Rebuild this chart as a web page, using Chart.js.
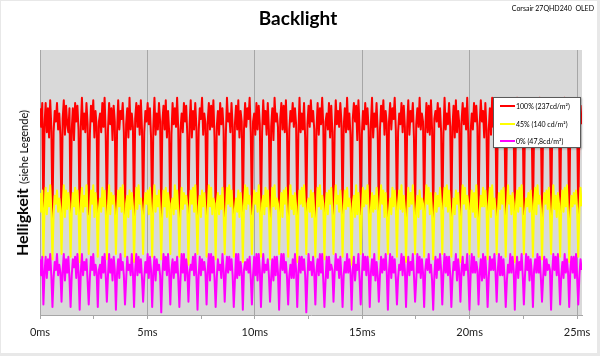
<!DOCTYPE html>
<html><head><meta charset="utf-8">
<script src="https://cdn.jsdelivr.net/npm/chart.js@4.4.1/dist/chart.umd.min.js"></script>
<style>
html,body{margin:0;padding:0;background:#fff;}
#wrap{position:relative;width:600px;height:356px;overflow:hidden;font-family:Lato,"DejaVu Sans",sans-serif;color:#000;}
#c{position:absolute;left:0;top:0;}
#frame{position:absolute;left:0;top:0;width:600px;height:356px;box-sizing:border-box;border:1px solid #e8e8e8;border-right-width:3px;border-bottom-width:3px;pointer-events:none;}
#title{position:absolute;left:298px;top:6px;transform:translateX(-50%);font-size:19px;font-weight:bold;white-space:nowrap;line-height:24px;}
#corner{position:absolute;right:6px;top:3px;font-size:7px;white-space:pre;line-height:10px;}
#ytitle{position:absolute;left:23px;top:183px;transform:translate(-50%,-50%) rotate(-90deg);white-space:nowrap;line-height:18px;}
#ytitle .b{font-weight:bold;font-size:16px;}
#ytitle .s{font-size:11px;}
#legend{position:absolute;left:493px;top:97px;width:88px;height:51px;box-sizing:border-box;border:1px solid #5a5a5a;background:#fff;box-shadow:1px 1px 2px rgba(0,0,0,0.25);}
#legend .row{position:absolute;left:0;height:10px;line-height:10px;font-size:7px;white-space:nowrap;}
#legend .sw{position:absolute;left:6px;top:4px;width:15px;height:2px;}
#legend .tx{position:absolute;left:22px;top:0;}
</style>
</head><body>
<div id="wrap">
<canvas id="c" width="600" height="356"></canvas>
<div id="title">Backlight</div>
<div id="corner">Corsair 27QHD240  OLED</div>
<div id="ytitle"><span class="b">Helligkeit</span> <span class="s">(siehe Legende)</span></div>
<div id="legend"></div>
<div id="frame"></div>
</div>
<script>
// Series names (legend)
const seriesNames = ['100% (237cd/m²)', '45% (140 cd/m²)', '0% (47,8cd/m²)'];
const seriesColors = ['#ff0000', '#ffff00', '#ff00ff'];
// Sample interval of the measurement trace (ms)
const sampleStepMs = 0.05275;
const xTickStepMs = 2.5;
const xLabelStepMs = 5;

// Brightness traces (relative units)
const red = [
78,71,80,
36,72,80,69,78,67,81,71, 37,69,77,73,80,70,76,68, 35,74,81,68,79,72,69,78, 37,70,78,66,80,73,79,70,
36,71,82,70,76,69,80,72, 38,68,79,73,81,67,77,71, 36,73,76,69,80,71,82,68, 37,70,80,72,78,66,79,73,
35,69,81,70,77,74,80,69, 37,72,78,67,82,70,76,71, 36,74,80,71,79,68,81,70, 38,69,77,73,80,72,78,67,
36,71,82,68,76,70,80,73, 37,73,79,70,81,67,77,69, 34,68,80,72,78,71,82,70, 37,70,76,69,80,73,79,68,
36,72,81,67,77,70,80,71, 38,69,78,74,82,68,76,72, 36,73,80,70,79,71,81,67, 37,71,77,68,80,72,78,70,
35,68,82,73,76,69,80,71, 37,72,79,70,81,67,77,73, 36,70,80,71,78,74,82,69, 38,73,76,68,80,70,79,72,
36,69,81,72,77,68,80,70, 37,71,78,66,82,73,76,71, 35,74,80,70,79,69,81,68, 37,70,77,73,80,71,78,72,
36,68,82,69,76,70,80,67, 38,72,79,71,81,73,77,70, 36,70,80,68,78,72,82,71, 37,73,76,70,80,67,79,69,
35,69,81,72,77,71,80,73, 37,71,78,69,82,70,76,68, 36,74,80,73,79,66,81,71, 38,68,77,70,80,72,78,70,
36,72,82,67,76,71,80,69, 37,70,79,73,81,68,77,72, 34,73,80,70,78,74,82,70, 37,69,76,72,80,69,79,71,
36,71,81,68,77,73,80,67, 38,72,78,71,82,70,76,73, 36,70,80,69,79,68,81,70, 37,74,77,73,80,71,78,69,
35,68,82,70,76,72,80,71, 37,71,79,67,81,69,77,72, 36,73,80,72,78,70,82,68, 38,69,76,70,80,73,79,71,
36,72,81,73,77,67,80,70, 37,70,78,68,82,71,76,72, 35,73,80,71,79,70,81,69, 37,68,77,72,80,74,78,70,
36,71,82,69,76,68,80,73, 38,73,79,70,81,72,77,68, 36,70,80,67,78,71,82,72, 37,72,76,73,80,69,79,70,
35,69,81,70,77,72,80,71, 37,74,78,68,82,70,76,69, 36,71,80,72,79,67,81,73,
37,70,79,72
];
const yellow = [
46,39,47,
22,40,48,38,46,41,49,39, 21,38,45,42,47,39,44,40, 23,41,49,37,47,40,46,42, 22,39,46,41,48,38,47,40,
20,42,48,39,45,41,49,38, 23,38,47,42,49,37,46,41, 22,40,44,39,48,41,47,39, 21,41,49,38,46,42,45,40,
23,39,47,41,48,39,49,38, 22,42,45,37,47,40,46,41, 20,38,48,40,49,42,44,39, 23,40,46,42,47,38,48,40,
22,41,49,39,45,41,47,38, 21,39,47,41,48,37,46,42, 23,42,44,38,49,40,47,39, 22,38,48,40,46,42,45,41,
19,40,47,42,48,39,49,38, 23,41,45,37,47,41,46,40, 22,39,49,41,48,38,44,42, 21,42,46,38,45,40,48,39,
23,38,48,42,49,41,47,40, 22,40,44,39,47,37,46,41, 20,41,49,40,48,42,45,38, 23,39,47,42,46,39,49,40,
22,42,45,38,48,41,47,39, 21,38,48,41,49,40,44,42, 23,40,46,37,47,42,48,38, 22,41,49,40,45,38,46,41,
20,39,47,42,48,41,49,40, 23,42,44,39,47,37,46,39, 22,38,48,41,49,40,45,42, 21,40,46,38,47,42,48,38,
23,41,49,42,45,39,47,41, 22,39,47,40,48,41,44,40, 19,42,45,37,49,38,46,39, 23,38,48,41,47,42,49,40,
22,40,46,39,45,40,48,42, 21,41,49,42,47,37,46,38, 23,39,44,38,48,41,47,41, 22,42,47,40,49,39,45,40,
20,38,48,41,46,42,49,39, 23,40,45,37,47,40,44,42, 22,41,49,42,48,38,46,38, 21,39,46,39,45,41,48,41,
23,42,48,41,49,39,47,40, 22,38,44,38,47,42,46,39, 20,40,49,42,48,40,45,42, 23,41,47,39,46,37,49,38,
22,39,45,41,48,41,47,41, 21,42,48,37,49,40,44,40, 23,38,46,40,47,42,48,39, 22,40,49,42,45,38,46,42,
20,41,47,39,48,41,49,38, 23,39,44,41,46,39,47,41, 22,42,48,38,49,42,45,40, 21,38,46,42,47,40,48,39,
23,40,49,40,45,37,46,42, 22,41,47,39,48,41,49,38, 20,39,45,41,46,42,47,40,
22,40,48,41
];
const magenta = [
21,15,22,
4,16,22,14,21,17,23,15, 3,14,20,17,23,15,19,16, 5,17,23,13,21,16,22,14, 3,15,21,18,22,14,23,16,
2,16,23,15,20,17,21,13, 4,14,22,17,23,15,19,16, 3,17,19,14,22,16,23,15, 5,15,23,16,21,13,22,17,
2,16,21,14,23,17,20,15, 4,13,22,17,19,15,23,16, 3,17,23,15,22,16,21,14, 5,14,20,16,23,14,22,17,
3,16,22,13,21,17,19,15, 1,15,23,17,22,15,23,16, 4,17,21,14,20,16,22,14, 3,14,23,16,23,13,21,17,
5,16,19,17,22,15,23,15, 2,15,22,15,21,17,20,16, 4,17,23,13,23,16,22,14, 3,14,21,17,19,14,23,17,
5,16,22,16,22,17,21,15, 3,13,23,14,23,15,20,16, 2,17,20,17,21,16,22,14, 4,15,22,15,23,13,23,17,
3,16,23,16,19,17,21,15, 5,14,21,13,22,15,22,16, 2,17,23,17,23,16,20,14, 4,15,19,14,21,14,23,17,
3,16,22,16,22,17,21,15, 1,14,23,17,20,15,22,16, 4,17,21,15,23,16,23,13, 3,13,22,14,22,17,19,17,
5,16,23,17,21,14,22,15, 3,15,20,16,23,16,21,16, 2,17,22,13,19,17,23,14, 4,14,23,17,22,15,22,17,
3,16,21,15,23,13,20,15, 5,15,22,16,21,17,23,16, 2,17,23,14,22,16,21,14, 4,14,19,17,23,15,22,17,
3,16,22,15,20,17,23,15, 5,13,23,16,22,14,21,16, 3,17,21,17,23,16,19,13, 2,15,22,14,21,17,23,17,
4,16,23,16,22,15,22,15, 3,14,20,17,23,13,21,16, 5,17,22,15,19,17,23,14, 2,15,23,16,22,16,20,17,
4,16,21,13,23,14,22,15, 3,14,22,17,21,17,23,16, 5,17,23,15,22,15,21,14, 3,13,19,16,23,16,22,17,
2,16,22,14,20,17,23,15, 4,15,23,17,22,13,21,16, 3,17,21,16,23,16,22,14, 5,14,22,15,21,17,19,17,
2,16,23,17,22,15,23,15, 4,15,20,14,23,16,21,16, 3,17,22,16,22,14,23,14,
4,15,21,17
];

const timesMs = red.map((_, i) => +(i * sampleStepMs).toFixed(5));
const seriesData = [red, yellow, magenta];

const plotBg = {
  id: 'plotBg',
  beforeDraw(chart) {
    const {ctx, chartArea: a} = chart;
    ctx.save();
    ctx.fillStyle = '#d9d9d9';
    ctx.fillRect(a.left, a.top, a.right - a.left, a.bottom - a.top);
    ctx.restore();
  }
};

const chart = new Chart(document.getElementById('c'), {
  type: 'line',
  data: {
    labels: timesMs,
    datasets: seriesData.map((d, i) => ({
      label: seriesNames[i],
      data: d,
      borderColor: seriesColors[i],
      backgroundColor: seriesColors[i],
      borderWidth: 2,
      pointRadius: 0,
      tension: 0,
      fill: false,
      borderJoinStyle: 'round',
      order: 3 - i
    }))
  },
  options: {
    responsive: false,
    animation: false,
    devicePixelRatio: 1,
    layout: { padding: { left: 40, right: 18, top: 50, bottom: 0 } },
    plugins: { legend: { display: false }, title: { display: false }, tooltip: { enabled: false } },
    scales: {
      x: {
        type: 'linear',
        min: 0,
        max: 25.23,
        afterFit(scale) { scale.height = 41; },
        border: { display: true, color: '#a6a6a6', width: 1 },
        grid: {
          drawOnChartArea: true,
          color: c => (c.tick && Math.abs(c.tick.value % xLabelStepMs) < 1e-6) ? '#a6a6a6' : 'rgba(0,0,0,0)',
          tickColor: '#a6a6a6',
          tickLength: 4,
          lineWidth: 1
        },
        ticks: {
          stepSize: xTickStepMs,
          includeBounds: false,
          autoSkip: false,
          maxRotation: 0,
          padding: 7,
          color: '#222',
          font: { family: 'Lato', size: 11 },
          callback: v => (Math.abs(v % xLabelStepMs) < 1e-6) ? v + 'ms' : ''
        }
      },
      y: {
        display: false,
        min: 0,
        max: 100
      }
    }
  },
  plugins: [plotBg]
});

// Legend built from the chart's datasets
const lg = document.getElementById('legend');
const rowCenters = [8, 25.5, 43];
chart.data.datasets.forEach((ds, i) => {
  const row = document.createElement('div');
  row.className = 'row';
  row.style.top = (rowCenters[i] - 5) + 'px';
  const sw = document.createElement('span');
  sw.className = 'sw';
  sw.style.background = ds.borderColor;
  const tx = document.createElement('span');
  tx.className = 'tx';
  tx.textContent = ds.label;
  row.appendChild(sw); row.appendChild(tx);
  lg.appendChild(row);
});
</script>
</body></html>
